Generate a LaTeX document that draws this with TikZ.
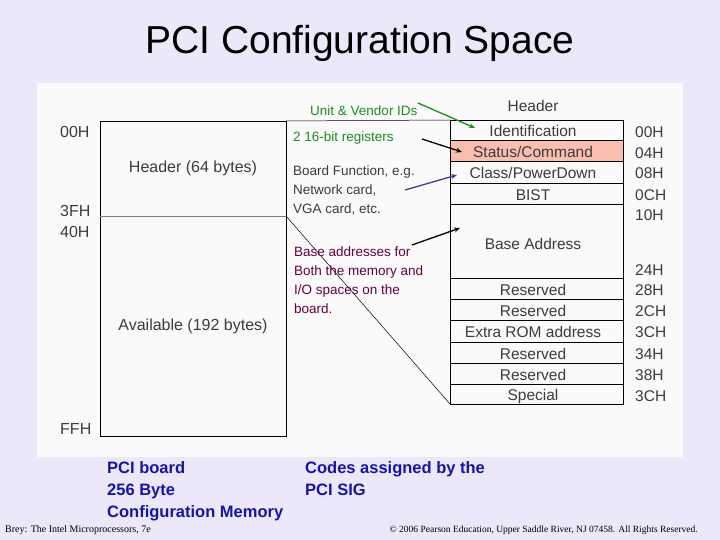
\documentclass[tikz,border=0pt]{standalone}
\usepackage{fontspec}
\setmainfont{Liberation Sans}
\newfontfamily\serifx{Liberation Serif}
\usetikzlibrary{arrows.meta}
\definecolor{bgc}{RGB}{236,232,250}
\definecolor{panel}{RGB}{250,250,250}
\definecolor{grn}{RGB}{30,140,30}
\definecolor{purp}{RGB}{100,0,70}
\definecolor{txtg}{RGB}{60,60,60}
\definecolor{navy}{RGB}{20,20,170}
\definecolor{blu}{RGB}{60,60,160}
\definecolor{salmon}{RGB}{250,190,175}
\begin{document}
\begin{tikzpicture}[x=1pt,y=-1pt,
  lbl/.style={font=\fontsize{16}{18}\selectfont,text=txtg,inner sep=0pt},
  row/.style={font=\fontsize{15.5}{17}\selectfont,text=txtg,inner sep=0pt},
  note/.style={font=\fontsize{13.5}{19}\selectfont,inner sep=0pt,anchor=north west,align=left},
  big/.style={font=\bfseries\fontsize{16.5}{22}\selectfont,text=navy,inner sep=0pt,anchor=north west,align=left},
  arr/.style={line width=1.3pt,-{Stealth[length=6pt,width=5pt]}}]
\useasboundingbox (0,0) rectangle (720,540);
\fill[bgc] (0,0) rectangle (720,540);
\fill[panel] (37,83) rectangle (683,457);
\node[font=\fontsize{39}{44}\selectfont,inner sep=0pt] (title) at (360,43) {PCI Configuration Space};
% left block
\draw[line width=0.8pt] (100,121) rectangle (286,436);
\draw[line width=0.5pt,gray] (100,216) -- (286,216);
\node[lbl] (hdr) at (193,168) {Header (64 bytes)};
\node[lbl] (avail) at (193,326) {Available (192 bytes)};
\node[lbl,anchor=west] (a00) at (60,132) {00H};
\node[lbl,anchor=west] (a3f) at (60,211) {3FH};
\node[lbl,anchor=west] (a40) at (60,232) {40H};
\node[lbl,anchor=west] (aff) at (60,429) {FFH};
% right table
\coordinate (tl) at (450,120);
\coordinate (bl) at (450,404);
\fill[salmon] (450,141) rectangle (623,162);
\draw[line width=0.8pt] (450,120) rectangle (623,404);
\draw[line width=1pt] (450,141) rectangle (623,162);
\foreach \y in {183,204,278,299,320,342,363,384} \draw[line width=0.6pt] (450,\y) -- (623,\y);
\node[row] (th) at (533,106) {Header};
\node[row] (r1) at (533,131) {Identification};
\node[row] (r2) at (533,152) {Status/Command};
\node[row] (r3) at (533,173) {Class/PowerDown};
\node[row] (r4) at (533,195) {BIST};
\node[row] (r5) at (533,244) {Base Address};
\node[row] (r6) at (533,290) {Reserved};
\node[row] (r7) at (533,311) {Reserved};
\node[row] (r8) at (533,332) {Extra ROM address};
\node[row] (r9) at (533,354) {Reserved};
\node[row] (r10) at (533,375) {Reserved};
\node[row] (r11) at (533,396) {Special};
\foreach \t/\y [count=\i] in {00H/132,04H/153,08H/173,0CH/195,10H/215,24H/270,28H/290,2CH/311,3CH/332,34H/354,38H/375,3CH/396}
  \node[row,anchor=west] (o\i) at (635,\y) {\t};
% connecting lines
\coordinate (btr) at (286,121);
\coordinate (bmr) at (286,216);
\draw[line width=0.5pt] (btr) -- (tl);
\draw[line width=0.5pt] (bmr) -- (bl);
% notes
\node[note,text=grn] (n1) at (310,106) {Unit \& Vendor IDs};
\node[note,text=grn] (n2) at (293,132) {2 16-bit registers};
\node[note,text=txtg] (n3) at (293,166) {Board Function, e.g.\\Network card,\\VGA card, etc.};
\node[note,text=purp] (n4) at (294,247) {Base addresses for\\Both the memory and\\I/O spaces on the\\board.};
\coordinate (g0) at (418,103); \coordinate (g1) at (475,128);
\coordinate (k0) at (422,139); \coordinate (k1) at (462,152);
\coordinate (b0) at (405,190); \coordinate (b1) at (457,175);
\coordinate (m0) at (412,245); \coordinate (m1) at (460,228);
\draw[arr,grn] (g0) -- (g1);
\draw[arr,black] (k0) -- (k1);
\draw[arr,blu] (b0) -- (b1);
\draw[arr,black] (m0) -- (m1);
% bottom
\node[big] (pb) at (107,461) {PCI board\\256 Byte\\Configuration Memory};
\node[big] (cs) at (305,461) {Codes assigned by the\\PCI SIG};
\node[font=\serifx\fontsize{10}{11}\selectfont,anchor=west,inner sep=0pt] (f1) at (5,530) {Brey: The Intel Microprocessors, 7e};
\node[font=\serifx\fontsize{9.5}{11}\selectfont,anchor=east,inner sep=0pt] (f2) at (698,530) {© 2006 Pearson Education, Upper Saddle River, NJ 07458. All Rights Reserved.};
\end{tikzpicture}
\end{document}
